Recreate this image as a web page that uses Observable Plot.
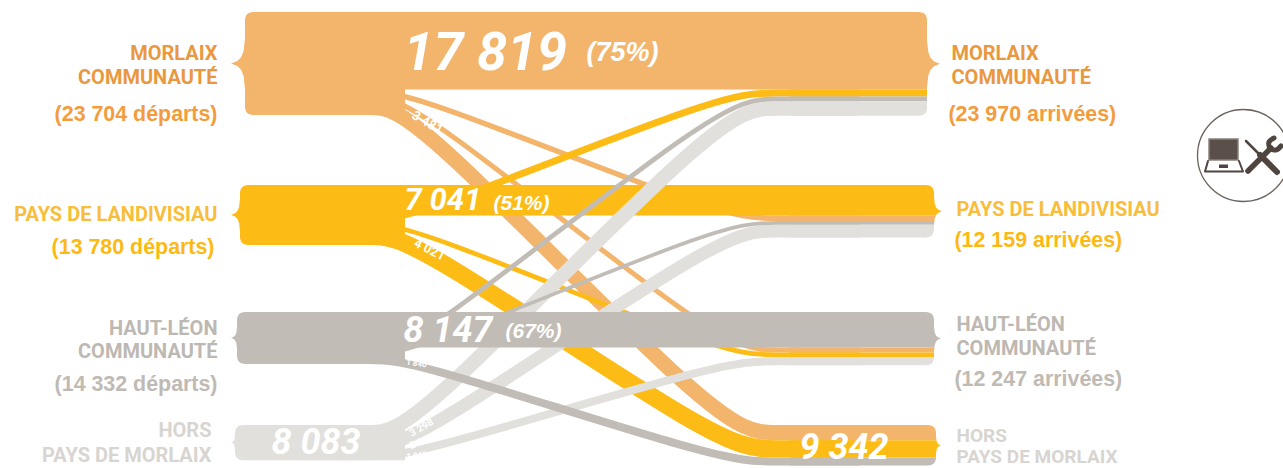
<!DOCTYPE html>
<html><head><meta charset="utf-8">
<script src="https://cdn.jsdelivr.net/npm/d3@7"></script>
<script src="https://cdn.jsdelivr.net/npm/@observablehq/plot@0.6"></script>
<style>html,body{margin:0;padding:0;background:#fff}svg{display:block}</style>
</head><body><div id="chart"></div>
<script>
// Data
const territories = ["Morlaix", "Landivisiau", "HautLeon", "Hors"];
const fromMorlaix = [17819, 1250, 1150, 3481];
const fromLandivisiau = [1620, 7041, 1098, 4021];
const fromHautLeon = [1100, 850, 8147, 1840];
const fromHors = [3298, 2940, 1845, 0];
const matrix = [fromMorlaix, fromLandivisiau, fromHautLeon, fromHors];
const bandColors = ["#F3B46C", "#FCBC15", "#C2BCB6", "#E2E0DC"];
const nameLeft = [["MORLAIX","COMMUNAUTÉ"],["PAYS DE LANDIVISIAU"],["HAUT-LÉON","COMMUNAUTÉ"],["HORS","PAYS DE MORLAIX"]];
const departures = ["(23 704 départs)", "(13 780 départs)", "(14 332 départs)"];
const arrivals = ["(23 970 arrivées)", "(12 159 arrivées)", "(12 247 arrivées)"];
const titleColors = ["#EA9840", "#F8BD3A", "#BDB8B2", "#D8D5D1"];
const countColors = ["#F39C3D", "#FDB913", "#BFBAB4"];

// Layout
const W = 1283, H = 468, unit = 230;
const px = p => p * unit;
const nodeTop = [12, 185, 312, 425];
const leftEdge = [245, 240, 237, 235], leftTip = [231, 231, 231, 231];
const rightEdge = [927, 934, 934, 936], rightTip = [940, 942, 941, 941];

// stacks: self first, then the other territories in order
function order(i) { return [i, ...territories.map((_, j) => j).filter(j => j !== i)]; }
const flows = [];
const leftY = {}, rightY = {};
territories.forEach((_, i) => {
  let a = px(nodeTop[i]);
  for (const j of order(i)) { const v = matrix[i][j]; if (v) { leftY[i + "-" + j] = a + v / 2; a += v; } }
  leftY["b" + i] = a;
  let b = px(nodeTop[i]);
  for (const j of order(i)) { const v = matrix[j][i]; if (v) { rightY[j + "-" + i] = b + v / 2; b += v; } }
  rightY["b" + i] = b;
});
matrix.forEach((row, i) => row.forEach((v, j) => { if (v) flows.push({ i, j, v, y0: leftY[i + "-" + j], y1: rightY[i + "-" + j] }); }));

const flowMark = f => {
  const pts = f.i === f.j
    ? [[400, f.y0], [800, f.y1]]
    : [[300, f.y0], [375, f.y0], [410, f.y0], [725, f.y1], [770, f.y1], [860, f.y1]];
  return Plot.line(pts, { x: d => d[0], y: d => d[1], dx: -0.5, dy: -0.5, curve: f.i === f.j ? "linear" : "basis",
    stroke: bandColors[f.i], strokeWidth: f.v / unit, strokeLinecap: "butt", strokeLinejoin: "round" });
};
const pick = test => flows.filter(test).map(flowMark);

// brace profile: rounded corners and a point in the middle of the node
function brace(top, bottom, edge, tip, dir) {
  const mid = (top + bottom) / 2, depth = Math.abs(tip - edge), reach = Math.min(depth * 1.8, (bottom - top) / 2 - 8);
  const p = [[0, 8], [.5, 5], [1.5, 2.8], [3.5, 1], [7, 0]].map(([dy, off]) => [top / unit + dy, edge + dir * off]);
  const q = [[1, 0], [.5, .1], [.25, .28], [.1, .55], [0, 1]].map(([r, f]) => [mid / unit - r * reach, edge - dir * f * depth]);
  const q2 = q.slice(0, -1).reverse().map(([y, x]) => [2 * mid / unit - y, x]);
  const s = [[7, 0], [3.5, 1], [1.5, 2.8], [.5, 5], [0, 8]].map(([dy, off]) => [bottom / unit - dy, edge + dir * off]);
  return [...p, ...q, ...q2, ...s];
}
function profileAt(pts, yp) {
  for (let k = 1; k < pts.length; k++) if (yp <= pts[k][0]) {
    const [a, xa] = pts[k - 1], [b, xb] = pts[k];
    return xa + (xb - xa) * (b > a ? (yp - a) / (b - a) : 0);
  }
  return pts[pts.length - 1][1];
}
const leftBlocks = territories.map((_, i) => {
  const pts = brace(px(nodeTop[i]), leftY["b" + i], leftEdge[i], leftTip[i], 1);
  return Plot.areaX(pts, { y: d => px(d[0]), x1: d => d[1], x2: 405, fill: bandColors[i] });
});
const rightBlocks = [];
territories.forEach((_, i) => {
  const pts = brace(px(nodeTop[i]), rightY["b" + i], rightEdge[i], rightTip[i], -1);
  let a = px(nodeTop[i]);
  for (const j of order(i)) {
    const v = matrix[j][i]; if (!v) continue;
    const y0 = a / unit, y1 = (a + v) / unit;
    const ys = [y0, ...pts.map(d => d[0]).filter(y => y > y0 && y < y1), y1];
    rightBlocks.push(Plot.areaX(ys, { y: d => px(d), x1: 790, x2: d => profileAt(pts, d), fill: bandColors[j] }));
    a += v;
  }
});

// Texts
const txt = (rows, o) => Plot.text(rows, { x: d => d.x, y: d => px(d.y), text: d => d.t, lineAnchor: "middle", ...o });
const titleL = [], titleR = [];
const leftTitleY = [[53, 77], [214], [328, 351], [430, 455]];
const leftTitleX = [217, 217, 217, 211];
const rightTitleY = [[53, 77], [209], [324, 348], [435, 456]];
const rightTitleX = [951, 956, 956, 956];
nameLeft.forEach((lines, i) => lines.forEach((t, k) => {
  titleL.push({ t, x: leftTitleX[i], y: leftTitleY[i][k], c: titleColors[i] });
  titleR.push({ t, x: rightTitleX[i], y: rightTitleY[i][k], c: titleColors[i] });
}));
const countL = departures.map((t, i) => ({ t, x: [217, 214, 217][i], y: [114, 247, 384][i], c: countColors[i] }));
const countR = arrivals.map((t, i) => ({ t, x: [948, 954, 954][i], y: [114, 240, 379][i], c: countColors[i] }));
const boldNums = [
  { t: "17 819", x: 403, y: 52, s: 54 }, { t: "7 041", x: 404, y: 200, s: 31 },
  { t: "8 147", x: 403, y: 330, s: 36 }, { t: "8 083", x: 271, y: 442, s: 36 },
  { t: "9 342", x: 799, y: 447, s: 36 }
];
const percents = [
  { t: "(75%)", x: 586, y: 52, s: 27 }, { t: "(51%)", x: 493, y: 203, s: 21 }, { t: "(67%)", x: 505, y: 331, s: 21 }
];
const flowLabels = [
  { t: "3 481", x: 427, y: 122, s: 13, r: 30 }, { t: "4 021", x: 429, y: 249, s: 13, r: 27 },
  { t: "1 840", x: 416, y: 363, s: 8, r: 8 }, { t: "3 298", x: 421, y: 427, s: 10, r: -30 },
  { t: "2 940", x: 421, y: 441, s: 10, r: -22 }, { t: "1 845", x: 416, y: 455, s: 8, r: -6 }
];

// Icon
const ink = "#4F443E";
const path = (pts, o) => Plot.line(pts, { x: d => d[0], y: d => px(d[1]), dx: -0.5, dy: -0.5, stroke: ink, strokeLinecap: "round", strokeLinejoin: "round", ...o });
const icon = [
  Plot.dot([[1243, 155]], { x: d => d[0], y: d => px(d[1]), r: 46, stroke: "#6b625c", strokeWidth: 1.3, fill: "#fff" }),
  Plot.rect([0], { x1: 1209, x2: 1238, y1: px(139), y2: px(160), fill: "#5A4F49", stroke: "#8A817B", strokeWidth: 1.5 }),
  path([[1208, 161], [1205, 171.5], [1243, 171.5], [1239, 161]], { strokeWidth: 2 }),
  Plot.rect([0], { x1: 1219, x2: 1228, y1: px(164.5), y2: px(168), fill: ink }),
  path([[1246, 141], [1260, 155]], { strokeWidth: 2.5 }),
  path([[1260, 155], [1277, 172]], { strokeWidth: 6 }),
  path([[1248, 171], [1271, 148]], { strokeWidth: 5.5 }),
  path([[1274, 138], [1269, 142], [1270, 148], [1276, 150], [1281, 146]], { strokeWidth: 5, curve: "catmull-rom", fill: "none" })
];

const chart = Plot.plot({
  width: W, height: H, margin: 0, marginTop: 0, marginRight: 0, marginBottom: 0, marginLeft: 0,
  x: { domain: [0, W], range: [0, W], axis: null },
  y: { domain: [0, px(H)], range: [0, H], axis: null },
  style: { background: "#fff" },
  marks: [
    ...leftBlocks,
    ...pick(f => f.i === 0 && f.j !== 0),
    ...pick(f => f.i === 1 && f.j !== 1),
    ...pick(f => f.i === 1 && f.j === 1),
    ...pick(f => f.i === 3),
    ...pick(f => f.i === 2 && f.j !== 2),
    ...pick(f => f.i === 2 && f.j === 2),
    ...pick(f => f.i === 0 && f.j === 0),
    ...rightBlocks,
    txt(titleL, { textAnchor: "end", fill: d => d.c, fontFamily: "Roboto", fontWeight: 700, fontSize: 20 }),
    txt(titleR, { textAnchor: "start", fill: d => d.c, fontFamily: "Roboto", fontWeight: 700, fontSize: d => d.y > 430 ? 19 : 20 }),
    txt(countL, { textAnchor: "end", fill: d => d.c, fontFamily: "Liberation Sans", fontWeight: 700, fontSize: 21.4 }),
    txt(countR, { textAnchor: "start", fill: d => d.c, fontFamily: "Liberation Sans", fontWeight: 700, fontSize: 21.4 }),
    ...boldNums.map(d => txt([d], { textAnchor: "start", fill: "#fff", fontFamily: "Roboto", fontWeight: 700, fontStyle: "italic", fontSize: d.s })),
    ...percents.map(d => txt([d], { textAnchor: "start", fill: "#fff", fontFamily: "Liberation Sans", fontWeight: 700, fontStyle: "italic", fontSize: d.s })),
    ...flowLabels.map(d => txt([d], { textAnchor: "middle", fill: "#fff", fontFamily: "Roboto", fontWeight: 700, fontSize: d.s, rotate: d.r })),
    ...icon
  ]
});
document.getElementById("chart").appendChild(chart);
</script></body></html>
